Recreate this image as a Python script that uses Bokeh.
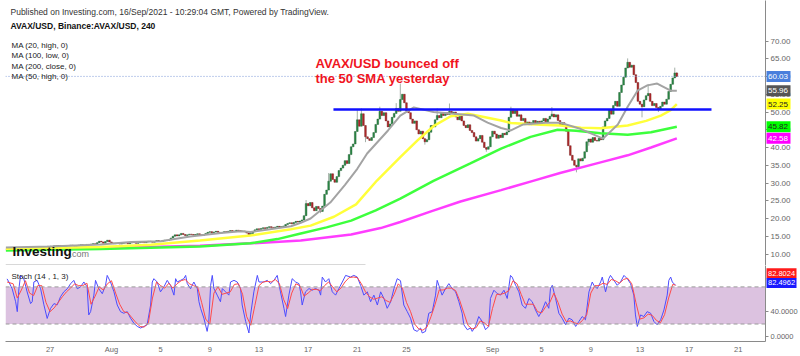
from bokeh.plotting import figure
from bokeh.layouts import column, row
from bokeh.models import (Range1d, FixedTicker, Label, Span, BoxAnnotation,
                          NumeralTickFormatter, ColumnDataSource)
from bokeh.core.properties import value
from bokeh.embed import file_html
from bokeh.resources import INLINE

# ---------------- data (days counted from 1 Aug 2021 00:00, 4h candles) ----------------
closes = [
    11.3, 11.5, 11.4, 11.6, 11.5, 11.7, 11.8, 11.6, 11.7, 11.9, 11.8, 11.7,
    11.9, 12.0, 11.8, 11.9, 12.1, 12.0, 11.9, 12.1, 12.2, 12.0, 12.1, 12.3,
    12.2, 12.4, 12.3, 12.1, 12.2, 12.4, 12.3, 12.5, 12.4, 12.2, 12.3, 12.5,
    12.6, 12.4, 12.5, 12.7, 12.6, 12.8, 12.9, 12.7, 13.2, 13.6, 13.4, 13.0,
    13.5, 13.9, 13.4, 13.1, 12.9, 13.1, 13.0, 12.8, 13.0, 13.2, 13.1, 12.9,
    13.1, 13.3, 13.2, 13.0, 13.2, 13.4, 13.3, 13.2, 13.4, 13.6, 13.5, 13.3,
    13.5, 13.8, 13.6, 13.5, 13.7, 13.9, 13.8, 14.0, 14.5, 15.0, 15.4, 15.1,
    15.4, 15.8, 15.5, 15.2, 15.4, 15.6, 15.5, 15.3, 15.5, 15.7, 15.4, 15.2,
    15.5, 15.8, 16.1, 16.3, 16.0, 16.2, 16.4, 16.1, 15.9, 16.1, 16.3, 16.2,
    16.4, 16.6, 16.3, 16.5, 16.7, 16.6, 16.4, 16.5, 16.3, 15.9, 15.5, 15.8,
    16.3, 16.8, 17.1, 16.9, 17.2, 17.4, 17.2, 17.5, 17.7, 17.5, 17.4, 17.6,
    17.8, 17.6, 17.7, 17.9, 18.3, 18.6, 18.8, 18.5, 18.9, 19.2, 19.0, 19.3,
    19.6, 20.8, 24.2, 23.6, 24.5, 23.0, 22.2, 23.4, 22.8, 22.0, 23.5, 26.8,
    28.0, 30.5, 32.6, 31.0, 30.2, 31.8, 33.5, 34.2, 35.0, 36.3, 35.5, 38.0,
    40.2, 41.0, 44.5, 47.8, 46.0, 49.5, 46.2, 43.0, 42.5, 42.0, 42.8, 44.2,
    46.5, 48.0, 50.2, 49.0, 49.8, 47.5, 45.8, 46.6, 48.5, 49.6, 51.0, 50.2,
    53.5, 55.0, 52.6, 50.3, 49.8, 48.0, 46.8, 47.5, 45.0, 43.8, 44.6, 42.5,
    41.6, 42.2, 44.3, 46.2, 45.8, 47.8, 49.0, 48.4, 49.6, 49.0, 49.8, 49.3,
    50.2, 49.6, 50.0, 48.6, 47.8, 48.8, 47.5, 46.2, 45.6, 46.4, 44.8, 44.2,
    43.0, 41.8, 42.5, 43.4, 41.5, 40.0, 39.5, 40.2, 43.0, 44.6, 43.8, 42.6,
    43.5, 42.8, 44.0, 43.6, 44.4, 48.5, 50.8, 49.6, 50.5, 48.8, 49.2, 47.6,
    48.2, 46.8, 47.2, 46.4, 47.0, 47.6, 46.8, 47.4, 46.9, 47.5, 48.2, 47.1,
    48.0, 48.8, 49.4, 48.6, 49.2, 47.6, 46.2, 47.0, 45.9, 44.6, 40.5, 37.8,
    36.4, 35.0, 34.6, 36.8, 36.2, 37.0, 38.8, 41.6, 42.4, 41.5, 42.8, 42.0,
    41.8, 42.6, 42.2, 45.8, 47.5, 48.2, 50.6, 49.4, 51.8, 53.0, 51.6, 55.5,
    57.6, 59.8, 62.4, 64.0, 62.6, 63.2, 60.5, 58.3, 53.0, 52.2, 51.5, 53.4,
    54.6, 55.2, 53.0, 51.8, 52.4, 51.3, 50.8, 51.6, 52.8, 52.2, 53.6, 55.8,
    57.8, 59.6, 61.0, 60.03,
]
first_open = 11.2
last_candle_day = 46.0
candles_per_day = 6
wick_highs = {171: 50.5, 173: 51.0, 182: 51.5, 190: 52.5, 192: 58.0, 194: 54.5,
              210: 51.0, 216: 52.4, 246: 51.5, 266: 51.4, 303: 65.1, 313: 57.9,
              326: 62.5, 327: 61.2, 146: 25.2, 157: 32.8}
wick_lows = {153: 21.5, 175: 41.5, 204: 40.8, 234: 38.8, 278: 33.0, 284: 40.5,
             310: 48.5, 318: 50.0}

ma20_t = [-8.6, -5.0, -0.9, 1.6, 4.0, 6.4, 8.9, 10.5, 11.3, 12.9, 14.6, 15.4, 16.2,
          17.8, 19.0, 20.0, 20.8, 22.5, 23.5, 24.6, 26.2, 27.6, 29.5, 30.6, 31.7, 32.5,
          33.5, 35.3, 36.5, 38.2, 40.0, 41.2, 42.0, 42.8, 43.6, 44.4, 45.5, 46.0]
ma20_v = [11.8, 12.1, 12.7, 13.4, 13.6, 14.9, 15.9, 16.4, 16.2, 17.0, 17.8, 18.8, 20.0,
          24.5, 29.5, 34.0, 38.3, 44.8, 49.0, 51.3, 50.0, 49.6, 49.0, 47.0, 45.5, 44.8,
          46.5, 47.0, 47.0, 45.2, 42.5, 46.5, 51.5, 56.0, 57.5, 58.0, 56.0, 55.96]
ma50_t = [-8.6, -0.9, 3.2, 7.2, 11.3, 14.6, 16.2, 18.1, 19.9, 21.6, 23.5, 24.9, 26.2,
          27.6, 29.0, 30.3, 31.7, 32.5, 34.9, 36.5, 38.2, 39.8, 42.0, 43.5, 44.7, 45.5, 46.0]
ma50_v = [11.5, 12.0, 12.6, 13.8, 15.2, 17.0, 18.0, 20.5, 24.0, 30.7, 37.3, 42.0, 46.0,
          48.8, 49.5, 48.6, 47.6, 46.9, 46.4, 46.2, 45.6, 45.4, 46.2, 47.5, 49.0, 50.5, 52.25]
ma100_t = [-8.6, -0.9, 7.2, 11.3, 13.5, 15.4, 17.5, 19.5, 21.5, 23.5, 26.2, 29.2, 31.7,
           34.1, 36.3, 37.8, 39.8, 42.0, 43.9, 46.0]
ma100_v = [11.0, 11.4, 12.1, 13.0, 14.2, 15.8, 17.5, 19.4, 22.3, 25.6, 30.6, 35.5, 39.7,
           43.0, 45.0, 44.7, 44.0, 43.6, 44.3, 45.82]
ma200_t = [-8.6, -0.9, 7.2, 11.3, 15.4, 19.5, 21.9, 23.5, 26.0, 28.4, 31.7, 34.3, 36.5,
           39.8, 42.0, 43.9, 46.0]
ma200_v = [11.3, 11.6, 12.3, 13.0, 13.8, 15.5, 17.3, 19.0, 22.0, 24.8, 28.0, 30.6, 32.8,
           35.8, 37.8, 40.0, 42.58]

resistance_level = 50.7
resistance_days = [18.06, 48.82]

stoch_k_i = [0, 0.9, 2.5, 4.2, 5.0, 5.8, 6.6, 8.2, 9.8, 11.5,
             12.3, 13.1, 14.7, 16.4, 18.0, 19.6, 21.2, 22.9, 24.5, 26.1,
             27.7, 29.4, 31.0, 32.6, 34.3, 35.9, 37.5, 39.1, 39.9, 40.8,
             42.4, 43.2, 44.8, 46.5, 48.1, 48.9, 50.5, 52.2, 53.8, 55.4,
             57.0, 58.7, 60.3, 61.9, 63.6, 65.2, 66.8, 68.4, 70.1, 70.9,
             71.7, 73.3, 74.9, 76.6, 78.2, 79.8, 81.5, 82.3, 83.1, 84.7,
             86.3, 87.2, 88.0, 89.6, 91.2, 92.9, 93.7, 94.5, 96.1, 97.7,
             98.5, 99.4, 100.2, 101.0, 102.6, 104.2, 105.1, 106.7, 108.3, 109.1,
             110.8, 112.4, 114.0, 114.8, 116.5, 118.1, 118.9, 120.5, 122.2, 123.0,
             125.4, 127.0, 128.7, 130.3, 131.9, 133.5, 135.2, 136.0, 137.6, 139.2,
             140.9, 142.5, 143.3, 144.1, 145.7, 147.4, 149.0, 150.6, 152.3, 153.1,
             153.9, 155.5, 157.1, 158.8, 160.4, 162.0, 163.7, 165.3, 167.7, 169.3,
             171.0, 172.6, 174.2, 175.9, 177.5, 179.1, 180.8, 182.4, 184.0, 185.6,
             187.3, 188.9, 190.5, 192.1, 193.7, 195.4, 197.0, 198.6, 200.2, 201.9,
             202.7, 204.3, 205.9, 207.6, 209.2, 210.0, 210.8, 212.4, 214.1, 215.7,
             217.3, 219.0, 220.6, 222.2, 223.0, 224.7, 226.3, 227.1, 228.7, 230.3,
             232.0, 233.6, 235.2, 236.0, 237.7, 239.3, 240.9, 242.6, 244.2, 245.8,
             246.6, 248.3, 249.9, 251.5, 253.1, 254.8, 256.4, 258.0, 259.6, 261.3,
             262.9, 264.5, 265.3, 266.2, 267.8, 269.4, 271.0, 272.7, 274.3, 275.9,
             277.6, 279.2, 280.8, 282.4, 284.1, 284.9, 285.7, 286.5, 288.1, 289.8,
             290.6, 292.2, 293.8, 294.6, 296.3, 297.9, 299.5, 301.2, 302.8, 304.4,
             306.0, 306.8, 307.7, 309.3, 310.9, 312.5, 314.2, 315.8, 317.4, 319.1,
             320.7, 322.3, 323.1, 324.0, 324.8, 326.4]
stoch_k_v = [93, 88, 77, 56, 40, 77, 98.6, 93, 72, 53,
             56, 88, 90.6, 77, 51, 29, 45, 53, 51, 64,
             72, 77, 85, 90.6, 77, 80, 88, 80, 34.7, 40,
             66.7, 90.6, 77, 69, 82.6, 98.6, 88, 72, 50.7, 40,
             37.4, 40, 29.4, 21.4, 16.1, 13.5, 16.1, 18.8, 50.7, 87.9,
             93.3, 87.9, 72, 80, 90.6, 82.6, 66.7, 93.3, 87.9, 90.6,
             93.3, 98.6, 85.3, 77, 87.9, 77, 56, 45.4, 29.4, 8.1,
             24.1, 82.6, 98.6, 77.3, 66.7, 56, 77.3, 72, 66.7, 87.9,
             90.6, 87.9, 77.3, 50.7, 24.1, 5.5, 34.7, 72, 98.6, 87.9,
             87.9, 90.6, 85.3, 90.6, 98.6, 72, 45.4, 32.1, 66.7, 93.3,
             87.9, 85.3, 72, 50.7, 72, 77.3, 74.6, 77.3, 74.6, 66.7,
             95.9, 87.9, 93.3, 72, 66.7, 77.3, 87.9, 98.6, 95.9, 98.6,
             95.9, 82.6, 66.7, 72, 56, 66.7, 50.7, 72, 61.3, 45.4,
             56, 77.3, 93.3, 90, 50.7, 40, 29.4, 10.8, 8.1, 13.5,
             5.5, 8.1, 37.4, 40, 66.7, 90.6, 82.6, 66.7, 77.3, 85.3,
             77.3, 72, 56, 37.4, 18.8, 10.8, 13.5, 8.1, 16.1, 32.1,
             24.1, 10.8, 16.1, 61.3, 74.6, 69.3, 66.7, 74.6, 61.3, 98.6,
             95.9, 82.6, 72, 50.7, 45.4, 61.3, 56, 42.7, 32.1, 42.7,
             56, 45.4, 77.3, 82.6, 61.3, 37.4, 29.4, 18.8, 29.4, 26.8,
             16.1, 24.1, 32.1, 26.8, 72, 80, 87.9, 82.6, 77.3, 87.9,
             95.9, 72, 93.3, 98.6, 90.6, 82.6, 87.9, 98.6, 93.3, 85.3,
             66.7, 34.7, 16.1, 34.7, 32.1, 40, 37.4, 24.1, 18.8, 26.8,
             42.7, 66.7, 90.6, 95.9, 87.9, 82.5]
stoch_d = [(0, 88), (3, 85), (5, 62), (7, 75), (9, 90), (11, 70), (13, 66), (15, 82), (17, 82),
           (19, 55), (21, 40), (23, 46), (25, 55), (27, 64), (29, 72), (31, 78), (33, 85), (35, 82),
           (37, 82), (39, 86), (41, 52), (43, 65), (45, 80), (47, 75), (49, 85), (51, 90), (53, 70),
           (55, 52), (57, 40), (59, 38), (61, 30), (63, 22), (65, 16), (67, 15), (69, 22), (71, 62),
           (73, 88), (75, 82), (77, 78), (79, 86), (81, 78), (83, 85), (85, 90), (87, 92), (89, 85),
           (91, 82), (93, 80), (95, 55), (97, 28), (99, 20), (101, 70), (103, 80), (105, 68),
           (107, 70), (109, 72), (111, 84), (113, 85), (115, 68), (117, 32), (119, 18), (121, 50),
           (123, 82), (125, 88), (127, 89), (129, 88), (131, 92), (133, 85), (135, 60), (137, 45),
           (139, 70), (141, 85), (143, 82), (145, 65), (147, 70), (149, 76), (151, 76), (153, 74),
           (155, 82), (157, 88), (159, 80), (161, 72), (163, 78), (165, 88), (167, 95), (169, 96),
           (171, 95), (173, 85), (175, 72), (177, 64), (179, 60), (181, 62), (183, 64), (185, 58),
           (187, 55), (189, 68), (191, 85), (193, 78), (195, 55), (197, 40), (199, 20), (201, 12),
           (203, 10), (205, 15), (207, 32), (209, 52), (211, 75), (213, 75), (215, 78), (217, 78),
           (219, 74), (221, 58), (223, 38), (225, 18), (227, 12), (229, 14), (231, 25), (233, 22),
           (235, 16), (237, 45), (239, 68), (241, 68), (243, 70), (245, 74), (247, 90), (249, 85),
           (251, 68), (253, 52), (255, 52), (257, 52), (259, 40), (261, 38), (263, 48), (265, 55),
           (267, 70), (269, 55), (271, 36), (273, 24), (275, 25), (277, 22), (279, 20), (281, 26),
           (283, 35), (285, 70), (287, 82), (289, 82), (291, 86), (293, 84), (295, 92), (297, 90),
           (299, 86), (301, 92), (303, 94), (305, 85), (307, 55), (309, 28), (311, 30), (313, 36),
           (315, 34), (317, 26), (319, 22), (321, 35), (323, 62), (325, 84), (326.4, 82.8)]
stoch_last_k = 82.4962
stoch_last_d = 82.8024

date_ticks = [-5, 0, 4, 8, 12, 16, 20, 24, 31, 35, 39, 43, 47, 51]
date_labels = ["27", "Aug", "5", "9", "13", "17", "21", "25", "Sep", "5", "9", "13", "17", "21"]
price_ticks = [10, 15, 20, 25, 30, 35, 40, 45, 50, 55, 60, 65, 70]
stoch_ticks = [0, 40]
ma_names = ["MA (20, high, 0)", "MA (100, low, 0)", "MA (200, close, 0)", "MA (50, high, 0)"]

# ---------------- layout constants ----------------
FONT = "Liberation Sans"
X0, X1 = -8.625, 53.215          # frame spans px 5..765
PPD = 760.0 / (X1 - X0)
Y_TOP, PPU = 81.41, 3.55          # main: frame top at px 0
S_TOP, SPU = 114.6, 0.6267        # stoch: frame top at px 265
AXW = 35                          # width of right axis strip

def fx(px):
    return X0 + (px - 5) / PPD

def fy(py):
    return Y_TOP - py / PPU

def sy(py):
    return S_TOP - (py - 265) / SPU

GREEN, GREEN_E = "#2c8a47", "#1c5c2e"
RED, RED_E = "#b3292b", "#701616"

def clean(fig):
    fig.outline_line_color = None
    fig.grid.visible = False
    fig.background_fill_color = "white"
    fig.border_fill_color = "white"

def style_yaxis(ax, size):
    ax.major_label_text_font = FONT
    ax.major_label_text_font_size = size
    ax.major_label_text_color = "#666666"
    ax.axis_line_color = "#8a8a8a"
    ax.major_tick_line_color = "#8a8a8a"
    ax.major_tick_out = 3
    ax.major_tick_in = 0
    ax.minor_tick_line_color = None
    ax.major_label_standoff = 2

def lab(fig, x, y, text, size="8px", color="#222222", style="normal"):
    fig.add_layout(Label(x=x, y=y, text=text, text_font=FONT, text_font_size=size,
                         text_color=color, text_font_style=style, text_baseline="middle",
                         text_align="left"))

def tag_strip(height, y_range):
    f = figure(width=AXW, height=height, x_range=Range1d(0, AXW), y_range=y_range,
               output_backend="svg", toolbar_location=None, x_axis_location=None,
               y_axis_location=None, min_border_left=0, min_border_right=0,
               min_border_top=0, min_border_bottom=0, margin=(0, 0, 0, -AXW))
    f.outline_line_color = None
    f.grid.visible = False
    f.background_fill_alpha = 0
    f.border_fill_alpha = 0
    return f

# ---------------- candles ----------------
n = len(closes)
days = [last_candle_day - (n - 1 - i) / candles_per_day for i in range(n)]
opens = [first_open] + closes[:-1]
tops = [max(o, c) for o, c in zip(opens, closes)]
bots = [min(o, c) for o, c in zip(opens, closes)]
highs = [max(tops[i], wick_highs.get(i, tops[i])) for i in range(n)]
lows = [min(bots[i], wick_lows.get(i, bots[i])) for i in range(n)]
up = [c >= o for o, c in zip(opens, closes)]
src = ColumnDataSource(dict(
    t=days, top=tops, bottom=bots, high=highs, low=lows,
    fill=[GREEN if u else RED for u in up],
    edge=[GREEN_E if u else RED_E for u in up],
))

p = figure(width=800, height=265, x_range=Range1d(X0, X1), y_range=Range1d(fy(265), Y_TOP),
           output_backend="svg", toolbar_location=None, x_axis_location=None,
           y_axis_location="right", min_border_left=5, min_border_right=AXW,
           min_border_top=0, min_border_bottom=0)
clean(p)
ax = p.yaxis[0]
ax.ticker = FixedTicker(ticks=price_ticks)
ax.formatter = NumeralTickFormatter(format="0.00")
style_yaxis(ax, "8px")

p.add_layout(Span(location=closes[-1], dimension="width", line_color="#7f9bd8",
                  line_dash="1 2", line_width=1))

p.segment("t", "high", "t", "low", source=src, line_color="#a4b0a8", line_width=1)
p.vbar(x="t", width=0.14, top="top", bottom="bottom", source=src,
       fill_color="fill", line_color="edge", line_width=0.4)

p.line(ma200_t, ma200_v, line_color="#ff3dff", line_width=2.5)
p.line(ma100_t, ma100_v, line_color="#3dff3d", line_width=2.5)
p.line(ma50_t, ma50_v, line_color="#ffff3a", line_width=2.5)
p.line(ma20_t, ma20_v, line_color="#a3a3a3", line_width=2)

p.line(resistance_days, [resistance_level] * 2, line_color="#1010ff", line_width=2.5)

p.segment([fx(5)], [fy(264.5)], [fx(365)], [fy(264.5)], line_color="#b0b0b0", line_width=1)

lab(p, fx(10), fy(11.5), "Published on Investing.com, 16/Sep/2021 - 10:29:04 GMT, Powered by TradingView.",
    size="8.5px", color="#333333")
lab(p, fx(10), fy(25), "AVAX/USD, Binance:AVAX/USD, 240", size="8.5px", color="#111111", style="bold")
for k, name in enumerate(ma_names):
    lab(p, fx(11), fy(45 + 10.3 * k), name, size="8px", color="#222222")

lab(p, fx(315), fy(62.5), "AVAX/USD bounced off", size="13px", color="#f0141e", style="bold")
lab(p, fx(315), fy(78), "the 50 SMA yesterday", size="13px", color="#f0141e", style="bold")

lab(p, fx(12), fy(251), "Investing", size="13.5px", color="#111111", style="bold")
lab(p, fx(69), fy(253), ".com", size="9px", color="#777777")

# value tags on the price axis (transparent strip overlapping the axis)
t1 = tag_strip(265, p.y_range)
tag_vals = [closes[-1], ma20_v[-1], ma50_v[-1], ma100_v[-1], ma200_v[-1]]
tag_bg = ["#4a7fdc", "#555555", "#ffff00", "#00ff00", "#ff00ff"]
tag_fg = ["white", "white", "#222222", "#222222", "white"]
t1.rect(x=[13] * 5, y=tag_vals, width=24, height=11, width_units="screen",
        height_units="screen", fill_color=tag_bg, line_color=None)
t1.text(x=[2.5] * 5, y=tag_vals, text=[f"{v:.2f}" for v in tag_vals], text_color=tag_fg,
        text_font=value(FONT), text_font_size=value("8px"), text_baseline="middle",
        text_align="left")

# ---------------- stochastic panel ----------------
p2 = figure(width=800, height=91, x_range=p.x_range, y_range=Range1d(sy(342), S_TOP),
            output_backend="svg", toolbar_location=None, y_axis_location="right",
            min_border_left=5, min_border_right=AXW, min_border_top=0, min_border_bottom=14)
clean(p2)

p2.add_layout(BoxAnnotation(bottom=20, top=80, fill_color="#dcc2e0", fill_alpha=1.0,
                            line_color=None, level="underlay"))
for lv in (20, 80):
    p2.add_layout(Span(location=lv, dimension="width", line_color="#9a9a9a",
                       line_dash="4 3", line_width=1))

def idx_day(i):
    return last_candle_day - (n - 1 - i) / candles_per_day

p2.line([idx_day(i) for i in stoch_k_i], stoch_k_v, line_color="#4c4cff", line_width=1)
p2.line([idx_day(i) for i, _ in stoch_d], [v for _, v in stoch_d], line_color="#ff4a4a",
        line_width=1)

ya = p2.yaxis[0]
ya.ticker = FixedTicker(ticks=stoch_ticks)
ya.formatter = NumeralTickFormatter(format="0.0000")
style_yaxis(ya, "7.5px")

xa = p2.xaxis[0]
xa.ticker = FixedTicker(ticks=date_ticks)
xa.major_label_overrides = {t: l for t, l in zip(date_ticks, date_labels)}
xa.major_label_text_font = FONT
xa.major_label_text_font_size = "7.5px"
xa.major_label_text_color = "#666666"
xa.axis_line_color = "#8a8a8a"
xa.major_tick_line_color = None
xa.major_tick_out = 0
xa.major_tick_in = 0
xa.minor_tick_line_color = None
xa.major_label_standoff = 3

lab(p2, fx(11), sy(276), "Stoch (14 , 1, 3)", size="8px", color="#222222")

t2 = tag_strip(91, p2.y_range)
s_vals = [stoch_last_d, stoch_last_k]
s_pos = [stoch_last_d + 12 / SPU, stoch_last_k + 2.5 / SPU]   # stacked so they do not overlap
t2.rect(x=[16] * 2, y=s_pos, width=30, height=10, width_units="screen",
        height_units="screen", fill_color=["#ff1a1a", "#1a1aff"], line_color=None)
t2.text(x=[2.5] * 2, y=s_pos, text=[f"{v:.4f}" for v in s_vals], text_color="white",
        text_font=value(FONT), text_font_size=value("7.5px"), text_baseline="middle",
        text_align="left")

layout = column(row(p, t1, spacing=0), row(p2, t2, spacing=0), spacing=0)
open("out.html", "w").write(file_html(layout, INLINE))
